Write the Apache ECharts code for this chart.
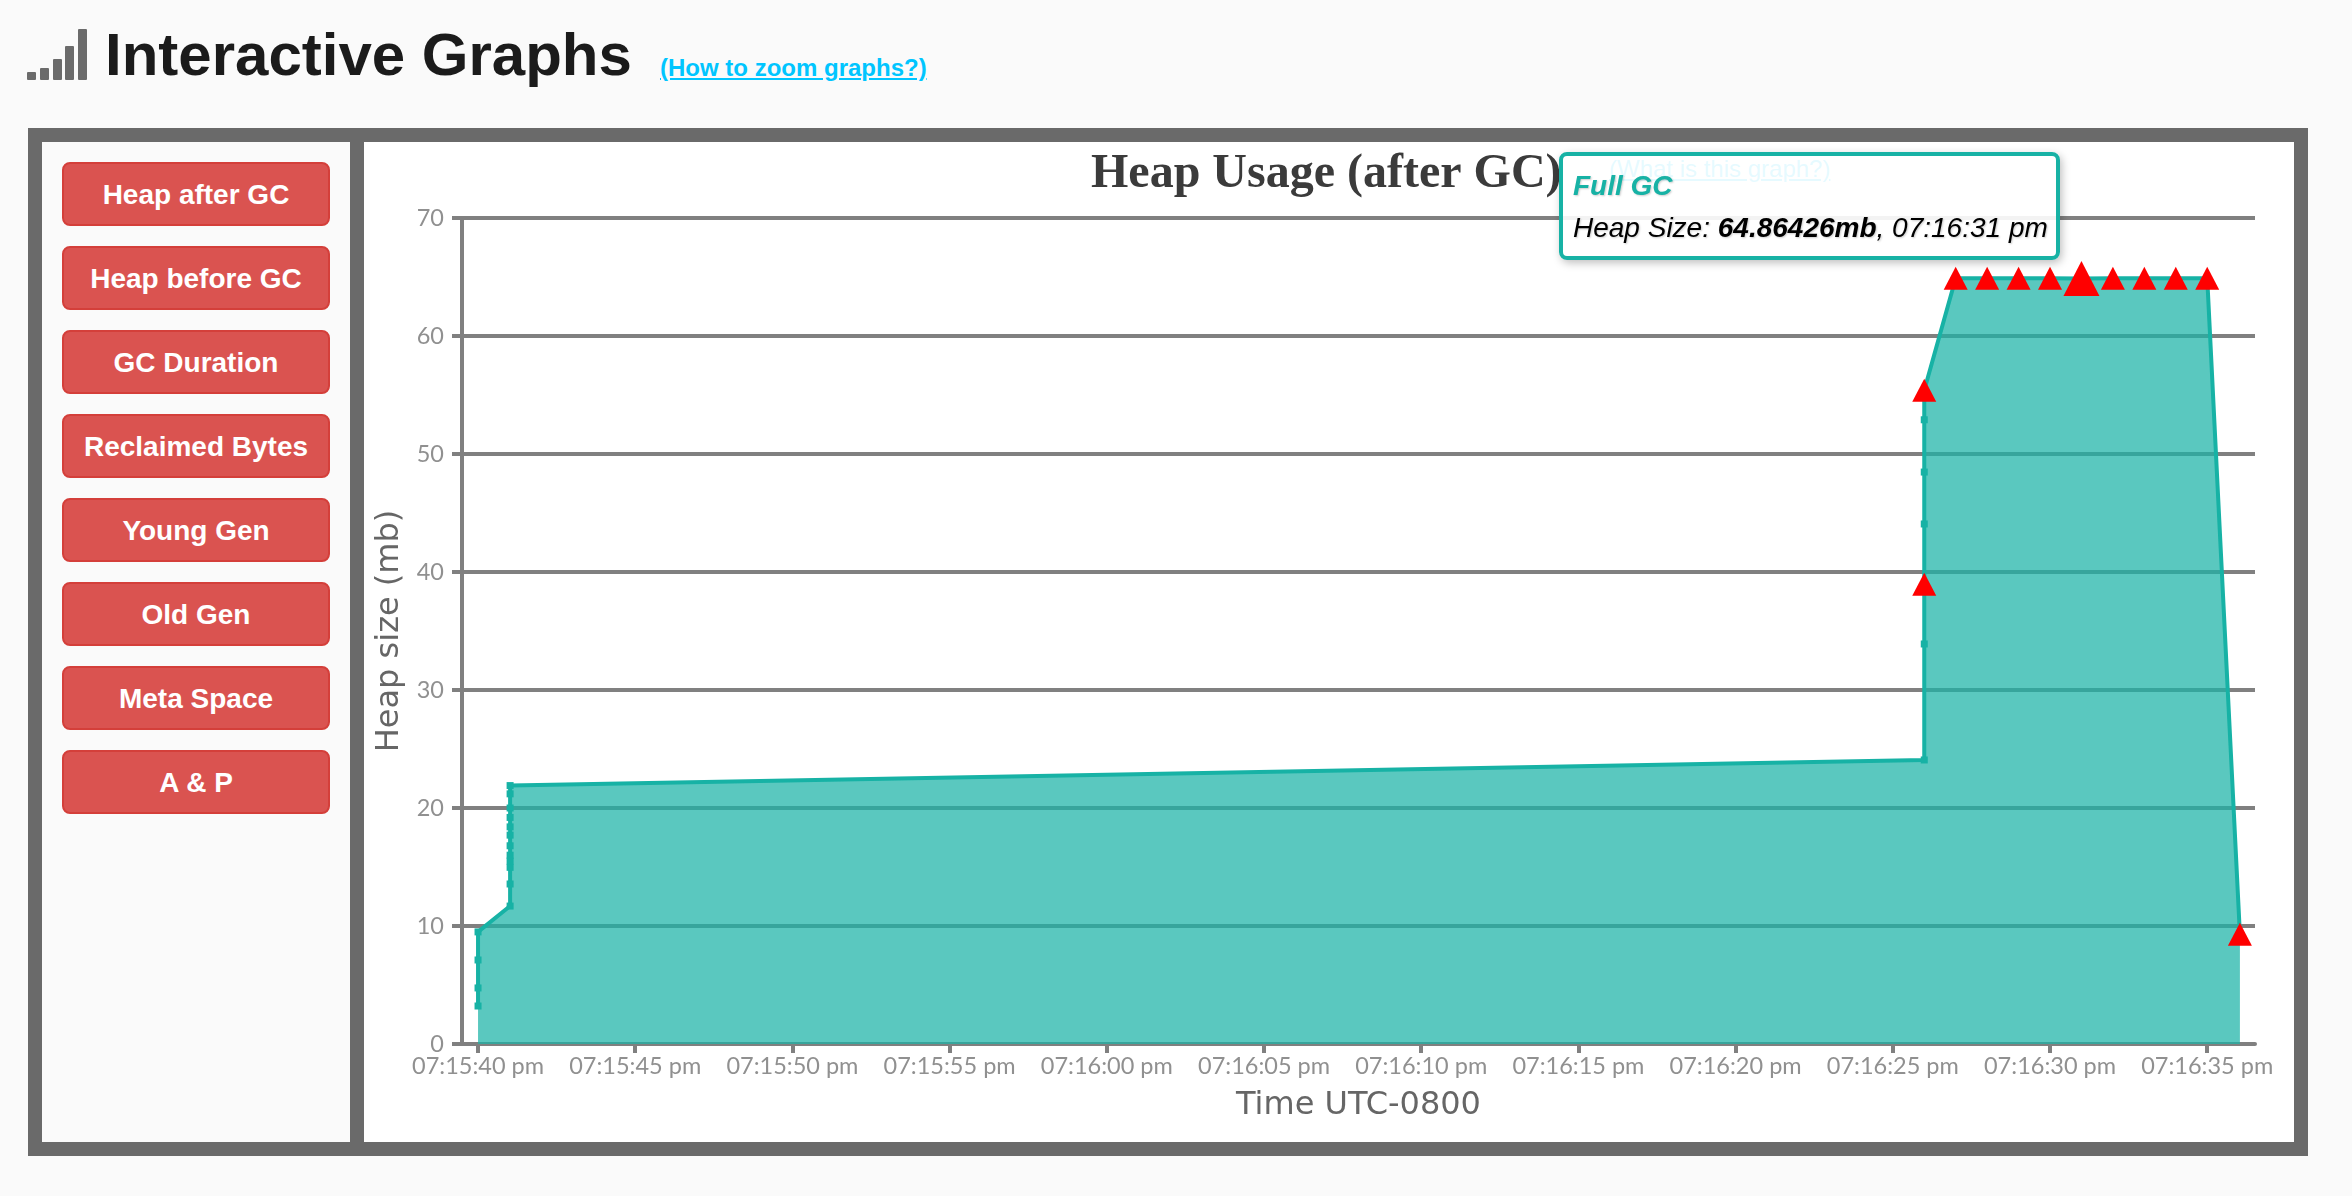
<!DOCTYPE html>
<html>
<head>
<meta charset="utf-8">
<title>Interactive Graphs</title>
<script src="https://cdn.jsdelivr.net/npm/echarts@6/dist/echarts.min.js"></script>
<style>
	html, body { margin: 0; padding: 0; width: 2352px; height: 1196px; background: #fafafa; overflow: hidden; font-family: "Liberation Sans", sans-serif; }
	.bars div { position: absolute; width: 9px; background: #6b6b6b; border-radius: 1px; }
	h1 { position: absolute; left: 105px; top: 20px; margin: 0; font-size: 60px; line-height: 70px; font-weight: bold; color: #1b1b1b; }
	a { color: #00c5ff; text-decoration: underline; font-weight: bold; white-space: nowrap; }
	#zoomLink { position: absolute; left: 660px; top: 53px; font-size: 24px; line-height: 30px; }
	#panel { position: absolute; left: 28px; top: 128px; width: 2280px; height: 1028px; background: #6a6a6a; }
	#side { position: absolute; left: 42px; top: 142px; width: 308px; height: 1000px; background: #fafafa; }
	#side button { position: absolute; left: 20px; width: 268px; height: 64px; padding: 1px 0 0 0; background: #da5350; border: 2px solid #d43f3a; border-radius: 8px; color: #fff; font: bold 28px "Liberation Sans", sans-serif; }
	#main { position: absolute; left: 364px; top: 142px; width: 1930px; height: 1000px; background: #fff; }
	#whatLink { position: absolute; left: 1245px; top: 12px; font-size: 24px; line-height: 30px; font-weight: normal; }
	#chart { position: absolute; left: 0; top: 0; width: 1930px; height: 1000px; }
</style>
</head>
<body>
<div class="bars" id="bars"></div>
<h1>Interactive Graphs</h1>
<a id="zoomLink" href="#">(How to zoom graphs?)</a>
<div id="panel"></div>
<div id="side"></div>
<div id="main">
	<a id="whatLink" href="#">(What is this graph?)</a>
	<div id="chart"></div>
</div>
<script>
const buttonNames = ["Heap after GC", "Heap before GC", "GC Duration", "Reclaimed Bytes", "Young Gen", "Old Gen", "Meta Space", "A & P"];

// seconds after 07:15:00 pm
const gcSeconds = [
	40, 40, 40, 40,
	41.02, 41.02, 41.02, 41.02, 41.02, 41.02, 41.02, 41.02, 41.02, 41.02, 41.02, 41.02,
	86, 86, 86, 86, 86, 86, 86,
	87, 88, 89, 90, 91, 92, 93, 94, 95,
	96.04,
];
const heapSizes = [
	3.22, 4.75, 7.12, 9.5,
	11.69, 13.56, 14.97, 15.5, 16.0, 16.8, 17.7, 18.4, 19.2, 20.0, 21.2, 21.9,
	24.07, 33.9, 38.96, 44.07, 48.47, 52.9, 55.4,
	64.9, 64.9, 64.9, 64.9, 64.86426, 64.9, 64.9, 64.9, 64.9,
	9.3,
];
// which of the points above were full GCs, and the one the tooltip sits on
const fullGcIndexes = [18, 22, 23, 24, 25, 26, 27, 28, 29, 30, 31, 32];
const hoveredGc = 27;

const xTickValues = [40, 45, 50, 55, 60, 65, 70, 75, 80, 85, 90, 95];
const xTickLabels = ["07:15:40 pm", "07:15:45 pm", "07:15:50 pm", "07:15:55 pm", "07:16:00 pm", "07:16:05 pm", "07:16:10 pm", "07:16:15 pm", "07:16:20 pm", "07:16:25 pm", "07:16:30 pm", "07:16:35 pm"];

const teal = "#17b2a5";
const axisGrey = "#808080";
const labelFont = "Lato";

// page furniture
const barTops = [72, 68, 59, 46, 29];
const barsDom = document.getElementById("bars");
barTops.forEach(function (top, i) {
	const bar = document.createElement("div");
	bar.style.left = 27 + i * 12.8 + "px";
	bar.style.top = top + "px";
	bar.style.height = 80 - top + "px";
	barsDom.appendChild(bar);
});
const sideDom = document.getElementById("side");
buttonNames.forEach(function (name, i) {
	const button = document.createElement("button");
	button.textContent = name;
	button.style.top = 20 + i * 84 + "px";
	sideDom.appendChild(button);
});

function clockText(seconds) {
	const s = Math.round(seconds);
	const mm = 15 + Math.floor(s / 60);
	const ss = String(s % 60).padStart(2, "0");
	return "07:" + mm + ":" + ss + " pm";
}

const linePoints = gcSeconds.map(function (t, i) {
	return [t, heapSizes[i]];
});
const fullGcPoints = fullGcIndexes.map(function (i) {
	return linePoints[i];
});

const option = {
	animation: false,
	backgroundColor: "transparent",
	title: {
		text: "Heap Usage (after GC)",
		left: 722,
		top: 4,
		textStyle: { fontFamily: "Liberation Serif", fontSize: 48, fontWeight: "bold", color: "#3b3b3b" },
	},
	grid: { left: 98, top: 76, width: 1793, height: 826, outerBoundsMode: "none" },
	xAxis: {
		type: "value",
		min: 39.49,
		max: 96.52,
		name: "Time UTC-0800",
		nameLocation: "middle",
		nameGap: 46,
		nameTextStyle: { fontFamily: "DejaVu Sans", fontSize: 32, color: "#666" },
		axisLine: { show: true, onZero: false, lineStyle: { color: axisGrey, width: 4 } },
		axisTick: { show: true, length: 9, lineStyle: { color: axisGrey, width: 4 }, customValues: xTickValues },
		axisLabel: {
			fontFamily: labelFont,
			fontSize: 23.5,
			color: "#909090",
			margin: 10,
			hideOverlap: false,
			showMinLabel: true,
			showMaxLabel: true,
			customValues: xTickValues,
			formatter: function (value) {
				return xTickLabels[xTickValues.indexOf(value)];
			},
		},
		splitLine: { show: false },
	},
	yAxis: {
		type: "value",
		min: 0,
		max: 70,
		interval: 10,
		name: "Heap size (mb)",
		nameLocation: "middle",
		nameGap: 54,
		nameTextStyle: { fontFamily: "DejaVu Sans", fontSize: 32, color: "#666" },
		axisLine: { show: true, lineStyle: { color: axisGrey, width: 4 } },
		axisTick: { show: true, length: 10, lineStyle: { color: axisGrey, width: 4 } },
		axisLabel: { fontFamily: labelFont, fontSize: 23.5, color: "#909090", margin: 18 },
		splitLine: { show: true, lineStyle: { color: axisGrey, width: 4 } },
	},
	tooltip: {
		show: true,
		trigger: "item",
		alwaysShowContent: true,
		transitionDuration: 0,
		position: [1195, 10],
		padding: [12, 10, 4, 10],
		backgroundColor: "rgba(255,255,255,0.9)",
		borderColor: teal,
		borderWidth: 4,
		borderRadius: 8,
		extraCssText: "box-shadow: 2px 3px 8px rgba(0,0,0,0.25); width: 473px; height: 84px; box-sizing: content-box; white-space: nowrap;",
		formatter: function (params) {
			return '<div style="font: italic bold 28px/36px \'Liberation Sans\'; color: ' + teal + '; text-shadow: 1px 1px 2px rgba(0,0,0,0.2);">Full GC</div>' +
				'<div style="font: italic 28px/48px \'Liberation Sans\'; color: #000; text-shadow: 1px 1px 2px rgba(0,0,0,0.2);">Heap Size: <b>' + params.value[1] + "mb</b>, " + clockText(params.value[0]) + "</div>";
		},
	},
	series: [
		{
			type: "line",
			data: linePoints,
			symbol: "rect",
			symbolSize: 7,
			showAllSymbol: true,
			silent: true,
			itemStyle: { color: teal },
			lineStyle: { color: teal, width: 4 },
			areaStyle: { color: "#1ab3a6", opacity: 0.72 },
			z: 2,
			tooltip: { show: false },
		},
		{
			type: "scatter",
			data: fullGcPoints,
			symbol: "triangle",
			symbolSize: function (value) {
				return value[1] === heapSizes[hoveredGc] ? [36, 35] : [24, 23];
			},
			itemStyle: { color: "#ff0000", opacity: 1 },
			z: 3,
		},
	],
};

const chartDom = document.getElementById("chart");
const heapChart = echarts.init(chartDom);
heapChart.setOption(option);
heapChart.dispatchAction({ type: "showTip", seriesIndex: 1, dataIndex: fullGcIndexes.indexOf(hoveredGc) });
</script>
</body>
</html>
